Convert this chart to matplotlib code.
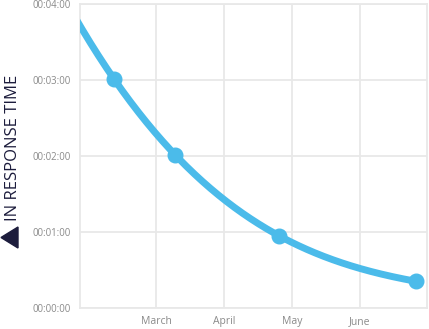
import numpy as np
import matplotlib
matplotlib.use("Agg")
import matplotlib.pyplot as plt
from matplotlib.patches import Polygon

# data: position in months (March = 1) and response time in seconds
point_x = [0.38, 1.28, 2.81, 4.83]
response_sec = [181, 121, 57, 21]
months = ["March", "April", "May", "June"]
month_pos = [1, 2, 3, 4]
y_ticks_sec = [0, 60, 120, 180, 240]

plt.rcParams['font.family'] = ['Open Sans', 'DejaVu Sans']

fig = plt.figure(figsize=(4.29, 3.29), dpi=100)
ax = fig.add_axes([79.5 / 429, 1 - 308 / 329, (427 - 79.5) / 429, (308 - 4) / 329])

line_color = "#4bbbea"
grid_color = "#e8e8e8"

# smooth curve through the points (cubic through the four points)
px = np.array(point_x)
py = np.array(response_sec) / 60.0
coef = np.polyfit(px, py, 3)
xs = np.linspace(-0.2, px[-1], 300)
ax.plot(xs, np.polyval(coef, xs), color=line_color, lw=5, solid_capstyle="round", zorder=3)
ax.plot(px, py, "o", color=line_color, ms=10.5, zorder=4)

ax.set_xlim(-0.125, 4.985)
ax.set_ylim(0, 4)
ax.set_xticks(month_pos)
ax.set_xticklabels(months)
ax.set_yticks([s / 60 for s in y_ticks_sec])
ax.set_yticklabels(["00:%02d:%02d" % (s // 60, s % 60) for s in y_ticks_sec])

ax.grid(True, color=grid_color, lw=1.3)
ax.set_axisbelow(True)
for sp in ax.spines.values():
    sp.set_color(grid_color)
    sp.set_linewidth(1.3)
ax.tick_params(length=0, colors="#8a8a8a")
ax.tick_params(axis="y", labelsize=6.9, pad=6)
ax.tick_params(axis="x", labelsize=7.5, pad=6)

# y axis title with left-pointing triangle
fig.text(13 / 429, 1 - 147.5 / 329, "IN RESPONSE TIME", rotation=90,
         ha="center", va="center", fontsize=12, color="#1c1c3c")
tri = [(1 / 429, 1 - 237.5 / 329), (18 / 429, 1 - 227 / 329), (18 / 429, 1 - 248 / 329)]
fig.patches.append(Polygon(tri, closed=True, color="#1c1c3c", transform=fig.transFigure))

fig.savefig("out.png", dpi=100)
